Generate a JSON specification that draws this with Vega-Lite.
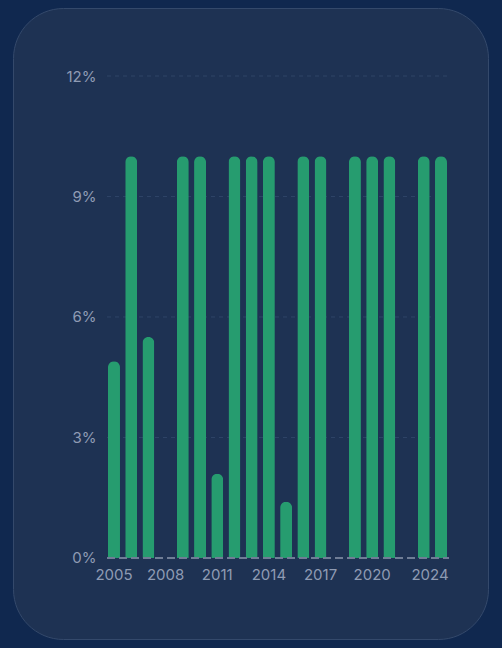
{
  "$schema": "https://vega.github.io/schema/vega-lite/v6.json",
  "width": 475,
  "height": 631,
  "autosize": {"type": "none"},
  "padding": {"left": 13, "top": 8, "right": 14, "bottom": 9},
  "background": "#10284f",
  "config": {
    "view": {"fill": "#1e3253", "stroke": "#34496b", "strokeWidth": 1, "cornerRadius": 50},
    "font": "Inter",
    "axis": {"labelFont": "Inter", "labelColor": "#8f9bb3", "labelFontSize": 15, "title": null, "grid": false, "domain": false, "ticks": false}
  },
  "layer": [
    {
      "data": {"values": [{"v": 3}, {"v": 6}, {"v": 9}, {"v": 12}]},
      "mark": {"type": "rule", "color": "#2f4467", "strokeWidth": 1, "strokeDash": [4, 4], "xOffset": -7, "x2Offset": 9},
      "encoding": {
        "x": {"datum": 2005, "type": "ordinal"},
        "x2": {"datum": 2024},
        "y": {"field": "v", "type": "quantitative"}
      }
    },
    {
      "data": {
        "values": [
          {"year": 2005, "pct": 4.9},
          {"year": 2006, "pct": 10},
          {"year": 2007, "pct": 5.5},
          {"year": 2008, "pct": 0},
          {"year": 2009, "pct": 10},
          {"year": 2010, "pct": 10},
          {"year": 2011, "pct": 2.1},
          {"year": 2012, "pct": 10},
          {"year": 2013, "pct": 10},
          {"year": 2014, "pct": 10},
          {"year": 2015, "pct": 1.4},
          {"year": 2016, "pct": 10},
          {"year": 2017, "pct": 10},
          {"year": 2018, "pct": 0},
          {"year": 2019, "pct": 10},
          {"year": 2020, "pct": 10},
          {"year": 2021, "pct": 10},
          {"year": 2022, "pct": 0},
          {"year": 2023, "pct": 10},
          {"year": 2024, "pct": 10}
        ]
      },
      "mark": {"type": "bar", "color": "#269c6f", "cornerRadiusEnd": 6},
      "encoding": {
        "x": {
          "field": "year",
          "type": "ordinal",
          "scale": {"range": [95, 434], "paddingInner": 0.303, "paddingOuter": 0},
          "axis": {
            "orient": "bottom",
            "offset": -81,
            "labelAngle": 0,
            "labelAlign": "center",
            "labelBaseline": "top",
            "labelPadding": 9,
            "values": [2005, 2008, 2011, 2014, 2017, 2020, 2024],
            "labelOffset": {"expr": "datum.value == 2024 ? -11 : 0"}
          }
        },
        "y": {
          "field": "pct",
          "type": "quantitative",
          "scale": {"domain": [-2.017, 13.693], "nice": false, "zero": false},
          "axis": {
            "orient": "left",
            "offset": -92,
            "labelPadding": 9,
            "values": [0, 3, 6, 9, 12],
            "labelExpr": "datum.value + '%'"
          }
        }
      }
    },
    {
      "data": {"values": [{"v": 0}]},
      "mark": {"type": "rule", "color": "#6f7d96", "strokeWidth": 2, "strokeDash": [8, 4], "xOffset": -7, "x2Offset": 8},
      "encoding": {
        "x": {"datum": 2005, "type": "ordinal"},
        "x2": {"datum": 2024},
        "y": {"field": "v", "type": "quantitative"}
      }
    }
  ]
}
